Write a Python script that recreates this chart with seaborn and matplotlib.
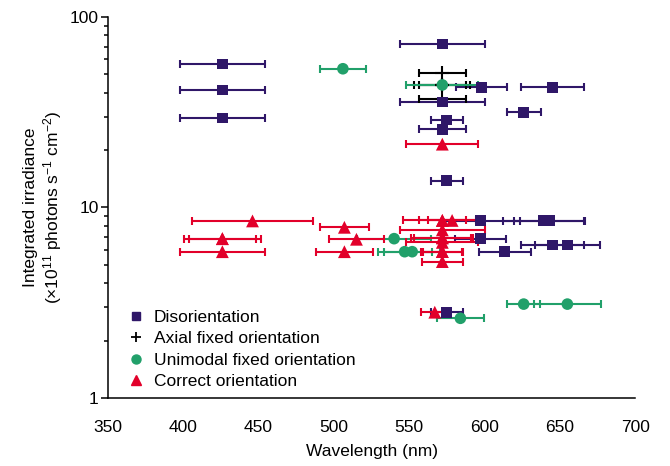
import numpy as np
import pandas as pd
import matplotlib
matplotlib.use('Agg')
import matplotlib.pyplot as plt
from matplotlib.lines import Line2D
from matplotlib.ticker import FixedLocator, NullFormatter
import seaborn as sns

# values (wavelength nm, irradiance x1e11, half-width of x error bar)
dis_wl = [426, 426, 426, 572, 598, 645, 572, 626, 575, 572, 575, 597.5, 639, 643, 597.5, 645, 655, 613.5, 575]
dis_irr = [56.6, 41.4, 29.5, 72.2, 42.8, 42.8, 35.8, 31.6, 28.8, 25.7, 13.8, 8.53, 8.53, 8.53, 6.86, 6.36, 6.36, 5.86, 2.82]
dis_err = [28, 28, 28, 28, 16.7, 21, 28, 11.4, 10.5, 15.6, 10.5, 26, 27, 23.4, 17, 20.8, 21.8, 17.3, 10.7]

ax_wl = [572, 572, 572, 572]
ax_irr = [50.6, 44.0, 44.0, 37.3]
ax_err = [15.6, 18.7, 15.6, 15.6]

uni_wl = [506, 572, 540, 547, 552, 626, 655, 584]
uni_irr = [53.5, 44.0, 6.86, 5.86, 5.86, 3.11, 3.11, 2.62]
uni_err = [15.5, 24, 24.7, 18, 18.5, 11, 22, 15.6]

cor_wl = [446, 507, 426, 426, 515, 426, 507, 572, 578.5, 572, 572, 572, 572, 572, 572, 572, 572, 572, 567]
cor_irr = [8.5, 7.87, 6.86, 6.86, 6.81, 5.86, 5.86, 8.55, 8.55, 8.55, 7.63, 6.93, 6.93, 6.56, 5.87, 5.87, 5.20, 21.5, 2.82]
cor_err = [40, 16.5, 25.6, 22, 18.5, 28, 18.7, 15.5, 16, 26, 28, 20.5, 19, 24, 14, 13, 13.5, 24, 9.3]

labels = ['Disorientation', 'Axial fixed orientation', 'Unimodal fixed orientation', 'Correct orientation']
colors = {'Disorientation': '#2f1768', 'Axial fixed orientation': 'black',
          'Unimodal fixed orientation': '#21a06a', 'Correct orientation': '#e2002a'}

df = pd.concat([
    pd.DataFrame({'wl': dis_wl, 'irr': dis_irr, 'err': dis_err, 'group': labels[0]}),
    pd.DataFrame({'wl': ax_wl, 'irr': ax_irr, 'err': ax_err, 'group': labels[1]}),
    pd.DataFrame({'wl': uni_wl, 'irr': uni_irr, 'err': uni_err, 'group': labels[2]}),
    pd.DataFrame({'wl': cor_wl, 'irr': cor_irr, 'err': cor_err, 'group': labels[3]}),
], ignore_index=True)

sns.set_style('ticks')
plt.rcParams['font.family'] = ['Liberation Sans', 'DejaVu Sans']
plt.rcParams['mathtext.default'] = 'regular'
for k in ['text.color', 'axes.labelcolor', 'xtick.color', 'ytick.color', 'axes.edgecolor']:
    plt.rcParams[k] = 'black'
fs = 12.5

fig = plt.figure(figsize=(6.7, 4.66), dpi=100)
ax = fig.add_axes([0.161, 0.146, 0.787, 0.8175])

for i, g in enumerate(labels):
    sub = df[df.group == g]
    ax.errorbar(sub.wl, sub.irr, xerr=sub.err, fmt='none', ecolor=colors[g],
                elinewidth=1.5, capsize=3, capthick=1.5, zorder=2 + i)

filled = df[df.group != labels[1]]
sns.scatterplot(data=filled, x='wl', y='irr', hue='group', style='group', size='group',
                palette=colors, markers={labels[0]: 's', labels[2]: 'o', labels[3]: '^'},
                sizes={labels[0]: 60, labels[2]: 70, labels[3]: 85},
                edgecolor='none', legend=False, ax=ax, zorder=10)
axial = df[df.group == labels[1]]
sns.scatterplot(data=axial, x='wl', y='irr', marker='+', color='black', s=90,
                linewidth=1.5, legend=False, ax=ax, zorder=9)

ax.set_yscale('log')
ax.set_ylim(1, 100)
ax.set_xlim(350, 700)
ax.set_xticks(range(350, 701, 50))
ax.yaxis.set_major_locator(FixedLocator([1, 10, 100]))
ax.set_yticklabels(['1', '10', '100'])
ax.yaxis.set_minor_formatter(NullFormatter())
ax.tick_params(axis='x', length=0, pad=16, labelsize=fs)
ax.tick_params(axis='y', which='major', length=5, width=1.1, labelsize=fs, pad=1.5)
ax.tick_params(axis='y', which='minor', length=3, width=1.1)
sns.despine(ax=ax)
for s in ['left', 'bottom']:
    ax.spines[s].set_linewidth(1.1)

ax.set_xlabel('Wavelength (nm)', fontsize=fs, labelpad=6)
ax.set_ylabel('Integrated irradiance\n' + r'($\times$10$^{11}$ photons s$^{-1}$ cm$^{-2}$)',
              fontsize=fs, labelpad=4.5, linespacing=1.15)

handles = [
    Line2D([], [], ls='none', marker='s', color=colors[labels[0]], markersize=6),
    Line2D([], [], ls='none', marker='+', color='black', markersize=7, markeredgewidth=1.3),
    Line2D([], [], ls='none', marker='o', color=colors[labels[2]], markersize=6.5),
    Line2D([], [], ls='none', marker='^', color=colors[labels[3]], markersize=7),
]
ax.legend(handles, labels, loc='lower left', bbox_to_anchor=(0.024, 0.0), frameon=False,
          fontsize=fs, handlelength=0.8, handletextpad=0.6, labelspacing=0.36, borderaxespad=0.1)

fig.savefig('out.png', dpi=100)
